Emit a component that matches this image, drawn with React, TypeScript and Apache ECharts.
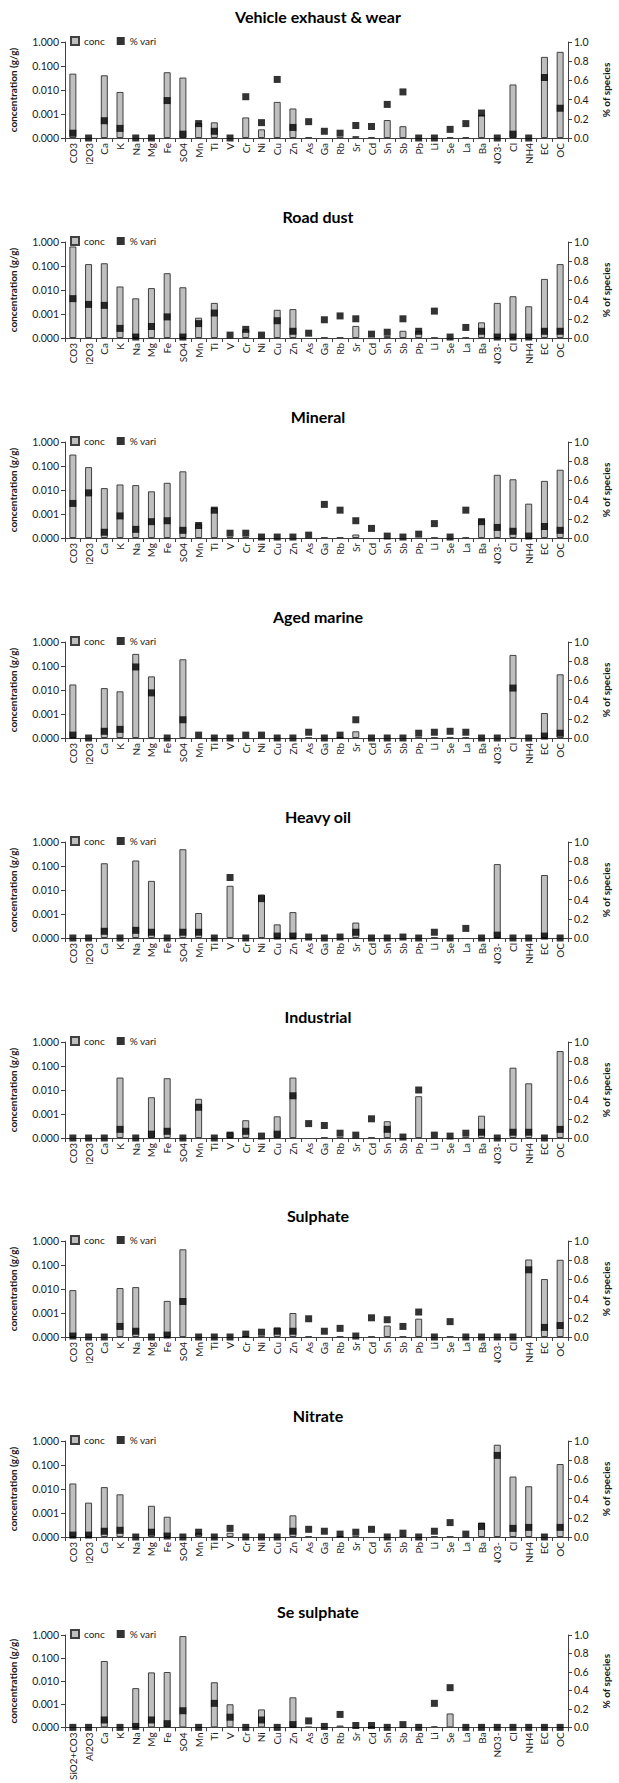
import React, { useEffect, useRef } from "react";
import * as echarts from "echarts";

const FONT = "Lato, 'Noto Sans', sans-serif";
const N = null;

const categories = ["SiO2+CO3","Al2O3","Ca","K","Na","Mg","Fe","SO4","Mn","Ti","V","Cr","Ni","Cu","Zn","As","Ga","Rb","Sr","Cd","Sn","Sb","Pb","Li","Se","La","Ba","NO3-","Cl","NH4","EC","OC"];

const titles = ["Vehicle exhaust & wear","Road dust","Mineral","Aged marine","Heavy oil","Industrial","Sulphate","Nitrate","Se sulphate"];

const vehicleConc = [0.048,N,0.041,0.0083,N,N,0.055,0.033,0.00042,0.00045,N,0.00072,0.00023,0.0032,0.0017,0.00011,N,0.000105,0.00012,0.00011,0.00056,0.00031,N,N,0.00011,0.00011,0.00093,N,0.017,N,0.24,0.39];
const vehicleVari = [0.05,0,0.18,0.10,0,0,0.39,0.04,0.15,0.07,0,0.43,0.16,0.61,0.11,0.17,0.07,0.05,0.13,0.12,0.35,0.48,0,0,0.09,0.15,0.26,0,0.04,0,0.63,0.31];

const roadConc = [0.65,0.12,0.13,0.014,0.0045,0.012,0.05,0.013,0.0007,0.0029,N,0.00023,N,0.0015,0.0016,N,0.000105,0.000105,0.00032,N,0.00012,0.0002,0.0002,0.000105,N,0.000105,0.00045,0.0029,0.0055,0.0021,0.029,0.12];
const roadVari = [0.41,0.35,0.34,0.10,0.01,0.12,0.22,0.01,0.15,0.26,0.03,0.09,0.03,0.18,0.07,0.05,0.19,0.23,0.2,0.04,0.06,0.2,0.07,0.28,0.01,0.11,0.07,0.01,0.01,0.01,0.07,0.07];

const mineralConc = [0.3,0.09,0.012,0.017,0.016,0.0088,0.02,0.06,0.0004,0.0018,0.00011,0.00011,N,N,N,N,0.000105,0.000105,0.00014,N,N,N,N,0.000105,N,0.000105,0.0006,0.043,0.028,0.0027,0.024,0.07];
const mineralVari = [0.36,0.47,0.06,0.23,0.09,0.17,0.18,0.08,0.13,0.29,0.05,0.05,0.01,0.01,0.01,0.03,0.35,0.29,0.18,0.1,0.02,0.01,0.04,0.15,0.01,0.29,0.17,0.11,0.07,0.02,0.12,0.08];

const marineConc = [0.017,N,0.012,0.0088,0.32,0.037,N,0.19,N,N,N,N,N,N,N,0.000105,N,0.000105,0.00019,N,N,N,0.000105,0.000105,0.000105,0.000105,N,N,0.29,N,0.0011,0.045];
const marineVari = [0.03,0,0.07,0.09,0.74,0.47,0,0.19,0.03,0,0,0.03,0.03,0,0,0.06,0,0.03,0.19,0,0,0,0.05,0.06,0.07,0.06,0,0,0.52,0,0.02,0.05];

const oilConc = [N,N,0.13,N,0.17,0.024,N,0.5,0.0011,N,0.015,N,0.0065,0.00037,0.0012,N,N,N,0.00044,N,N,N,N,0.000105,N,N,N,0.12,N,N,0.042,N];
const oilVari = [0,0,0.07,0,0.08,0.06,0,0.06,0.06,0,0.63,0,0.41,0.02,0.02,0.01,0,0.01,0.06,0,0,0.01,0,0.06,0,0.1,0,0.03,0,0,0.02,0];

const industrialConc = [N,N,N,0.033,N,0.005,0.031,N,0.0043,N,0.00017,0.00055,N,0.0008,0.033,N,0.000105,0.000105,N,0.000105,0.0005,N,0.0055,N,N,0.000105,0.00085,N,0.085,0.019,N,0.42];
const industrialVari = [0,0,0,0.09,0,0.04,0.07,0,0.32,0,0.03,0.07,0.02,0.04,0.44,0.15,0.13,0.05,0.03,0.2,0.09,0.01,0.5,0.03,0.02,0.05,0.06,0,0.06,0.06,0,0.09];

const sulphateConc = [0.009,N,N,0.011,0.012,N,0.0032,0.45,N,N,N,0.000105,0.000105,0.00025,0.001,0.000105,N,0.000105,N,0.000105,0.0003,0.000105,0.00058,N,0.000105,N,N,N,N,0.17,0.026,0.165];
const sulphateVari = [0.01,0,0,0.11,0.06,0,0.02,0.37,0,0,0,0.03,0.05,0.06,0.06,0.19,0.06,0.09,0.01,0.2,0.18,0.11,0.26,0,0.16,0,0,0,0,0.7,0.1,0.12];

const nitrateConc = [0.017,0.0027,0.012,0.006,N,0.002,0.0007,N,0.00015,N,0.00015,N,N,N,0.0008,0.000105,N,0.000105,0.000105,N,N,0.000105,N,0.000105,0.000105,N,0.0004,0.7,0.033,0.013,N,0.11];
const nitrateVari = [0.02,0.02,0.06,0.07,0,0.05,0.01,0,0.05,0,0.09,0,0,0,0.06,0.08,0.06,0.03,0.05,0.08,0,0.04,0,0.06,0.15,0.03,0.11,0.85,0.09,0.1,0,0.1];

const seConc = [N,N,0.075,N,0.005,0.024,0.025,0.9,N,0.009,0.001,N,0.0006,N,0.002,0.000105,N,0.00012,N,0.000105,N,N,N,0.00011,0.0004,N,N,N,N,N,N,N];
const seVari = [0,0,0.08,0,0.01,0.08,0.04,0.18,0,0.26,0.11,0,0.08,0,0.03,0.07,0.01,0.14,0.02,0.02,0,0.03,0,0.26,0.43,0,0,0,0,0,0,0];

const concSeries = [vehicleConc, roadConc, mineralConc, marineConc, oilConc, industrialConc, sulphateConc, nitrateConc, seConc];
const variSeries = [vehicleVari, roadVari, mineralVari, marineVari, oilVari, industrialVari, sulphateVari, nitrateVari, seVari];

// layout
const panelTops = [0, 200, 400, 600, 800, 1000, 1199, 1399, 1595];
const AXIS = "#404040";
const TXT = "#1a1a1a";

function Panel({ idx }: { idx: number }) {
  const ref = useRef<HTMLDivElement>(null);
  const last = idx === 8;
  const plotTop = last ? 40 : 42;
  const plotHeight = last ? 97 : 96;
  const chartH = last ? 188 : 200;
  const clipH = last ? 188 : 164;
  useEffect(() => {
    const chart = echarts.init(ref.current!, null, { renderer: "svg" });
    chart.setOption({
      animation: false,
      textStyle: { fontFamily: FONT },
      title: {
        text: titles[idx],
        left: 313,
        textAlign: "center",
        top: 3,
        textStyle: { fontSize: 16, fontWeight: "bold", color: "#000", fontFamily: FONT },
      },
      legend: {
        left: 70,
        top: plotTop - 6,
        itemWidth: 8,
        itemHeight: 8,
        itemGap: 12,
        padding: 0,
        textStyle: { fontSize: 10, color: TXT, fontFamily: FONT },
        data: [
          { name: "conc", icon: "rect" },
          { name: "% vari", icon: "rect" },
        ],
      },
      grid: { left: 62, top: plotTop, width: 517, height: plotHeight },
      xAxis: {
        type: "category",
        data: categories,
        axisLine: { lineStyle: { color: AXIS } },
        axisTick: { show: true, alignWithLabel: false, interval: 0, length: 4, lineStyle: { color: AXIS } },
        axisLabel: { rotate: 90, interval: 0, fontSize: 10, color: TXT, margin: 5, fontFamily: FONT },
      },
      yAxis: [
        {
          type: "log",
          logBase: 10,
          min: 0.0001,
          max: 1,
          startValue: 0.0001,
          name: "concentration (g/g)",
          nameLocation: "middle",
          nameGap: 47,
          nameRotate: 90,
          nameTextStyle: { fontSize: 10, fontWeight: "bold", color: TXT, fontFamily: FONT },
          axisLine: { show: true, lineStyle: { color: AXIS } },
          axisTick: { show: true, length: 4, lineStyle: { color: AXIS } },
          minorTick: { show: false },
          splitLine: { show: false },
          axisLabel: { formatter: (v: number) => v.toFixed(3), fontSize: 10.5, color: TXT, margin: 6, fontFamily: FONT },
        },
        {
          type: "value",
          min: 0,
          max: 1,
          interval: 0.2,
          position: "right",
          name: "% of species",
          nameLocation: "middle",
          nameGap: 33,
          nameRotate: 90,
          nameTextStyle: { fontSize: 10, fontWeight: "bold", color: TXT, fontFamily: FONT },
          axisLine: { show: true, lineStyle: { color: AXIS } },
          axisTick: { show: true, length: 4, lineStyle: { color: AXIS } },
          splitLine: { show: false },
          axisLabel: { formatter: (v: number) => v.toFixed(1), fontSize: 10.5, color: TXT, margin: 6, fontFamily: FONT },
        },
      ],
      series: [
        {
          name: "conc",
          type: "bar",
          yAxisIndex: 0,
          data: concSeries[idx],
          barWidth: 7,
          itemStyle: { color: "#bfbfbf", borderColor: AXIS, borderWidth: 1 },
        },
        {
          name: "% vari",
          type: "scatter",
          yAxisIndex: 1,
          data: variSeries[idx],
          symbol: "rect",
          symbolSize: 7,
          itemStyle: { color: "#000" },
          z: 3,
        },
      ],
    });
    return () => chart.dispose();
  }, [idx]);
  return (
    <div style={{ position: "absolute", left: 0, top: panelTops[idx], width: 619, height: clipH, overflow: "hidden" }}>
      <div ref={ref} style={{ width: 619, height: chartH }} />
    </div>
  );
}

export default function App() {
  useEffect(() => {
    document.body.style.margin = "0";
    document.body.style.background = "#fff";
  }, []);
  return (
    <div style={{ position: "relative", width: 619, height: 1783, background: "#fff" }}>
      {titles.map((_, i) => (
        <Panel key={i} idx={i} />
      ))}
    </div>
  );
}
